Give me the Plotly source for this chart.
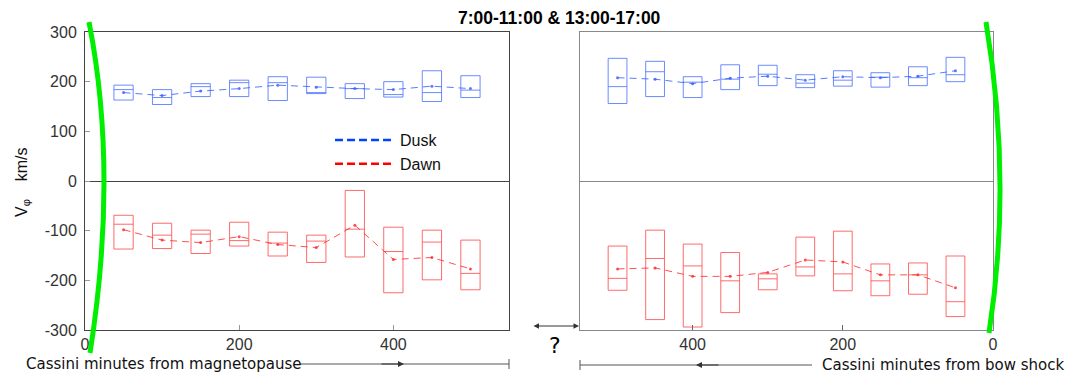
import plotly.graph_objects as go

W, H = 1086, 374
OFF = 8  # page body margin offset (screen px)

# ---------------- data ----------------
x_left = [50, 100, 150, 200, 250, 300, 350, 400, 450, 500]   # minutes from magnetopause
x_right = [500, 450, 400, 350, 300, 250, 200, 150, 100, 50]  # minutes from bow shock

dusk_L_q3 = [193, 184, 196, 203, 210, 209, 196, 200, 222, 212]
dusk_L_q1 = [163, 154, 170, 170, 162, 176, 166, 169, 160, 168]
dusk_L_med = [184, 168, 190, 198, 198, 178, 186, 174, 178, 183]
dusk_L_mean = [178, 172, 181, 186, 193, 189, 186, 184, 191, 186]

dawn_L_q3 = [-69, -85, -99, -83, -103, -109, -19, -93, -99, -119]
dawn_L_q1 = [-137, -136, -146, -131, -151, -164, -153, -225, -199, -219]
dawn_L_med = [-87, -109, -107, -120, -125, -121, -97, -142, -123, -186]
dawn_L_mean = [-98, -119, -124, -112, -128, -134, -89, -158, -154, -177]

dusk_R_q3 = [247, 241, 210, 234, 233, 214, 222, 218, 230, 249]
dusk_R_q1 = [156, 170, 168, 184, 192, 188, 191, 189, 192, 200]
dusk_R_med = [190, 220, 199, 205, 215, 197, 203, 209, 208, 214]
dusk_R_mean = [208, 205, 196, 207, 211, 203, 210, 208, 211, 222]

dawn_R_q3 = [-131, -99, -127, -144, -187, -113, -101, -167, -165, -151]
dawn_R_q1 = [-220, -279, -294, -265, -219, -191, -221, -231, -228, -273]
dawn_R_med = [-196, -156, -171, -201, -197, -173, -187, -201, -189, -243]
dawn_R_mean = [-177, -175, -192, -192, -184, -159, -163, -189, -189, -215]

y_ticks = [-300, -200, -100, 0, 100, 200, 300]
y_tick_labels = ["-300", "-200", "-100", "0", "100", "200", "300"]
x_ticks = [0, 200, 400]

BOX_BLUE = "rgba(70,110,255,0.8)"
BOX_RED = "rgba(255,70,70,0.8)"
MEAN_BLUE = "rgba(60,100,255,0.85)"
MEAN_RED = "rgba(255,50,50,0.85)"

def px(x):
    return (x - OFF) / W

def py(y):
    return 1 - (y - OFF) / H

fig = go.Figure()

def add_boxes(xs, q1, med, q3, color, xa, ya):
    fig.add_trace(go.Box(
        x=xs, q1=q1, median=med, q3=q3, lowerfence=q1, upperfence=q3,
        width=25, fillcolor="rgba(0,0,0,0)", line=dict(color=color, width=1),
        boxpoints=False, showlegend=False, xaxis=xa, yaxis=ya, whiskerwidth=0,
    ))

def add_mean(xs, ys, color, xa, ya):
    fig.add_trace(go.Scatter(
        x=xs, y=ys, mode="lines+markers",
        line=dict(color=color, width=1, dash="7px,5px"),
        marker=dict(size=3, color=color),
        showlegend=False, xaxis=xa, yaxis=ya,
    ))

add_boxes(x_left, dusk_L_q1, dusk_L_med, dusk_L_q3, BOX_BLUE, "x", "y")
add_boxes(x_left, dawn_L_q1, dawn_L_med, dawn_L_q3, BOX_RED, "x", "y")
add_mean(x_left, dusk_L_mean, MEAN_BLUE, "x", "y")
add_mean(x_left, dawn_L_mean, MEAN_RED, "x", "y")

add_boxes(x_right, dusk_R_q1, dusk_R_med, dusk_R_q3, BOX_BLUE, "x2", "y2")
add_boxes(x_right, dawn_R_q1, dawn_R_med, dawn_R_q3, BOX_RED, "x2", "y2")
add_mean(x_right, dusk_R_mean, MEAN_BLUE, "x2", "y2")
add_mean(x_right, dawn_R_mean, MEAN_RED, "x2", "y2")

# legend-only entries
fig.add_trace(go.Scatter(x=[None], y=[None], mode="lines", name="Dusk",
                         line=dict(color="#0044ff", width=2.5, dash="8px,4px")))
fig.add_trace(go.Scatter(x=[None], y=[None], mode="lines", name="Dawn",
                         line=dict(color="#ff0000", width=2.5, dash="8px,4px")))

tickfont = dict(family="Liberation Sans, Arial, sans-serif", size=16, color="#333")
ydom = [py(330), py(32)]

fig.update_layout(
    width=W, height=H,
    margin=dict(l=0, r=0, t=0, b=0, autoexpand=False),
    paper_bgcolor="white", plot_bgcolor="white",
    boxmode="overlay",
    showlegend=True,
    legend=dict(x=px(330), y=py(123), xanchor="left", yanchor="top",
                bgcolor="rgba(0,0,0,0)", itemwidth=60,
                font=dict(family="Liberation Sans, Arial, sans-serif", size=16, color="#111")),
    xaxis=dict(domain=[px(85), px(509)], range=[0, 550], tickvals=x_ticks,
               showline=True, mirror=True, linecolor="#444", linewidth=1,
               ticks="inside", ticklen=5, tickcolor="#999", automargin=False,
               showgrid=False, zeroline=False, tickfont=tickfont, anchor="y"),
    yaxis=dict(domain=ydom, range=[-300, 300], tickvals=y_ticks, ticktext=y_tick_labels,
               showline=True, mirror=True, linecolor="#444", linewidth=1,
               ticks="inside", ticklen=5, tickcolor="#999", automargin=False,
               showgrid=False, zeroline=True, zerolinecolor="#444", zerolinewidth=1,
               tickfont=tickfont, ticklabelstandoff=4, anchor="x"),
    xaxis2=dict(domain=[px(580), px(993)], range=[550, 0], tickvals=x_ticks,
                showline=True, mirror=True, linecolor="#888", linewidth=1,
                ticks="inside", ticklen=5, tickcolor="#666", automargin=False,
                showgrid=False, zeroline=False, tickfont=tickfont, anchor="y2"),
    yaxis2=dict(domain=ydom, range=[-300, 300], tickvals=y_ticks,
                showline=True, mirror=True, linecolor="#888", linewidth=1,
                ticks="", showticklabels=False, automargin=False,
                showgrid=False, zeroline=True, zerolinecolor="#888", zerolinewidth=1,
                anchor="x2"),
)

# green boundary curves (magnetopause / bow shock)
def qpath(p0, c, p1):
    return "M %f,%f Q %f,%f %f,%f" % (px(p0[0]), py(p0[1]), px(c[0]), py(c[1]), px(p1[0]), py(p1[1]))

shapes = [
    dict(type="path", xref="paper", yref="paper", path=qpath((89, 22), (118.5, 172), (90, 353)),
         line=dict(color="#00ee00", width=5)),
    dict(type="path", xref="paper", yref="paper", path=qpath((986, 22), (1012.5, 182), (989, 333)),
         line=dict(color="#00ee00", width=5)),
    # bottom axis-direction lines
    dict(type="line", xref="paper", yref="paper", x0=px(300), y0=py(364), x1=px(509), y1=py(364),
         line=dict(color="#555", width=1)),
    dict(type="line", xref="paper", yref="paper", x0=px(509), y0=py(359), x1=px(509), y1=py(369),
         line=dict(color="#555", width=1)),
    dict(type="line", xref="paper", yref="paper", x0=px(580), y0=py(365), x1=px(812), y1=py(365),
         line=dict(color="#555", width=1)),
    dict(type="line", xref="paper", yref="paper", x0=px(580), y0=py(360), x1=px(580), y1=py(370),
         line=dict(color="#555", width=1)),
]
fig.update_layout(shapes=shapes)

annotations = [
    dict(text="<b>7:00-11:00 &amp; 13:00-17:00</b>", x=px(559), y=py(18), xref="paper", yref="paper",
         xanchor="center", yanchor="middle", showarrow=False,
         font=dict(family="Liberation Sans, Arial, sans-serif", size=17.5, color="#000")),
    dict(text="V<sub>φ</sub>&nbsp;&nbsp;&nbsp;&nbsp;km/s", x=px(22), y=py(182), xref="paper", yref="paper",
         xanchor="center", yanchor="middle", textangle=-90, showarrow=False,
         font=dict(family="Liberation Sans, Arial, sans-serif", size=16, color="#111")),
    dict(text="Cassini minutes from magnetopause", x=px(24), y=py(364), xref="paper", yref="paper",
         xanchor="left", yanchor="middle", showarrow=False,
         font=dict(family="DejaVu Sans, sans-serif", size=15, color="#111")),
    dict(text="Cassini minutes from bow shock", x=px(1067), y=py(365), xref="paper", yref="paper",
         xanchor="right", yanchor="middle", showarrow=False,
         font=dict(family="DejaVu Sans, sans-serif", size=15, color="#111")),
    dict(text="?", x=px(555), y=py(345), xref="paper", yref="paper", showarrow=False,
         xanchor="center", yanchor="middle",
         font=dict(family="DejaVu Sans, sans-serif", size=22, color="#000")),
    # arrowheads on direction lines
    dict(text="", x=px(404), y=py(364), ax=-24, ay=0, xref="paper", yref="paper",
         axref="pixel", ayref="pixel", showarrow=True, arrowhead=2, arrowsize=1.2,
         arrowwidth=1, arrowcolor="#333"),
    dict(text="", x=px(696), y=py(365), ax=24, ay=0, xref="paper", yref="paper",
         axref="pixel", ayref="pixel", showarrow=True, arrowhead=2, arrowsize=1.2,
         arrowwidth=1, arrowcolor="#333"),
    # double arrow between panels
    dict(text="", x=px(579), y=py(326), ax=-47, ay=0, xref="paper", yref="paper",
         axref="pixel", ayref="pixel", showarrow=True, arrowhead=2, startarrowhead=2,
         arrowside="end+start", arrowsize=1.1, arrowwidth=1, arrowcolor="#333"),
]
fig.update_layout(annotations=annotations)

fig.write_html("out.html")
